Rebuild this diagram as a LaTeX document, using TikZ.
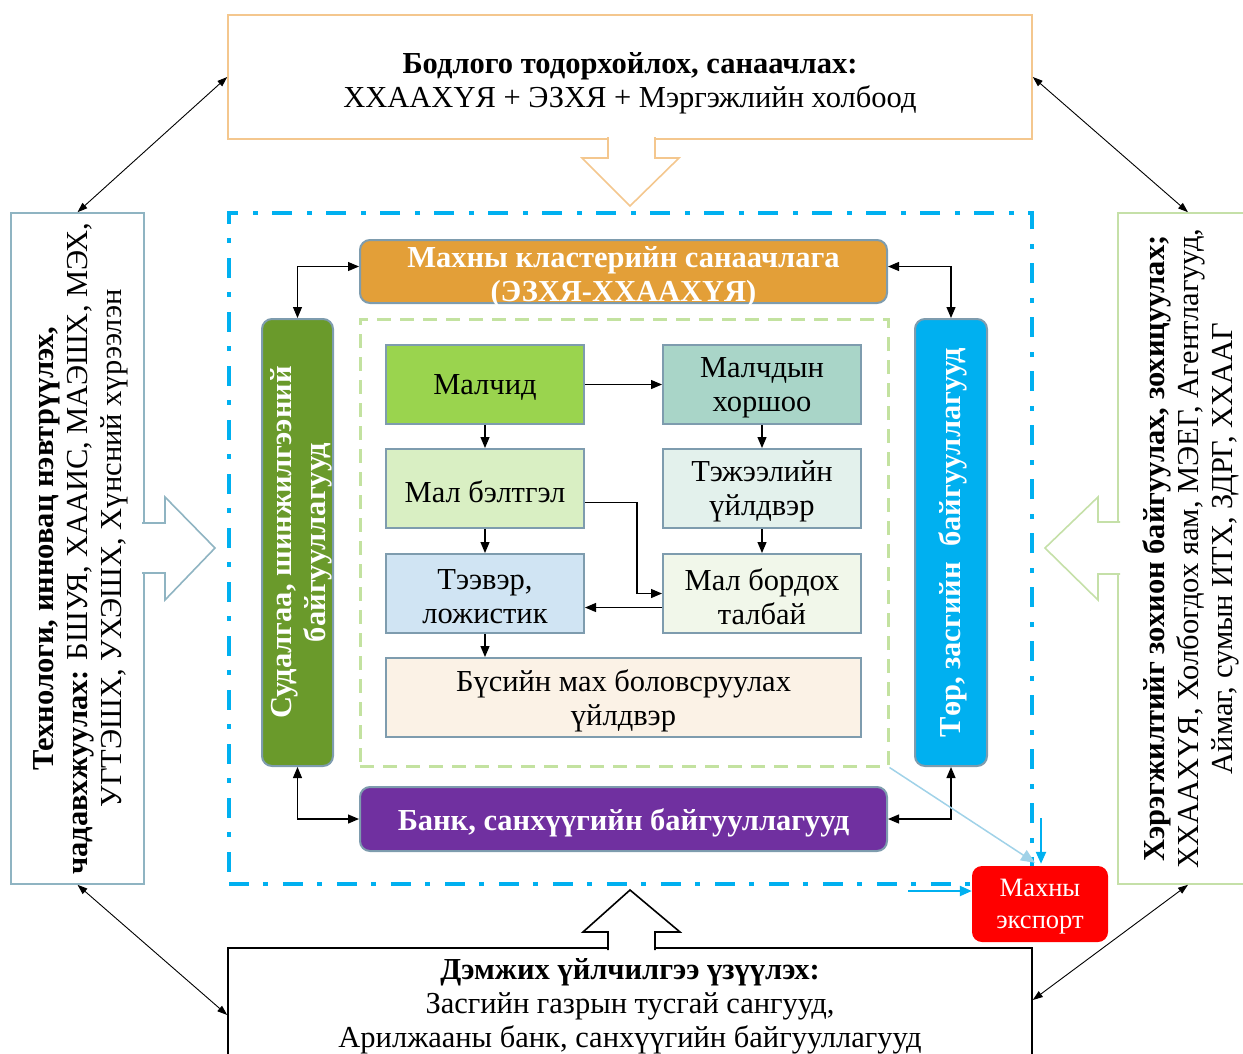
\documentclass[tikz,border=0pt]{standalone}
\usepackage{fontspec}
\setmainfont{Liberation Serif}
\usetikzlibrary{arrows.meta,calc}
\definecolor{topedge}{HTML}{F4C78E}
\definecolor{leftedge}{HTML}{8FB4C2}
\definecolor{rightedge}{HTML}{C5E0A8}
\definecolor{boxedge}{HTML}{7E9CAE}
\definecolor{oranfill}{HTML}{E39F38}
\definecolor{greenfill}{HTML}{6A9A2B}
\definecolor{bluefill}{HTML}{00B0F0}
\definecolor{purpfill}{HTML}{7030A0}
\definecolor{cmalchid}{HTML}{9AD44E}
\definecolor{ckhorshoo}{HTML}{A9D5C8}
\definecolor{cbeltgel}{HTML}{D9EFC3}
\definecolor{ctejeel}{HTML}{E3F1EC}
\definecolor{cteever}{HTML}{D0E4F3}
\definecolor{cbordokh}{HTML}{F1F7EA}
\definecolor{cbusiin}{HTML}{FBF2E6}
\definecolor{lbline}{HTML}{A0D2E8}
\definecolor{dashgreen}{HTML}{C3E2A0}
\newcommand\fsz{\fontsize{30.5}{34}\selectfont}
\newcommand\fsm{\fontsize{26.5}{32}\selectfont}
\begin{document}
\begin{tikzpicture}[x=1pt,y=-1pt,
  bigbox/.style={draw, line width=1.6pt, fill=white, inner sep=0pt},
  txt/.style={align=center, font=\fsz, inner sep=0pt},
  inbox/.style={draw=boxedge, line width=2pt, minimum width=198pt, minimum height=79pt, inner sep=0pt},
  rbox/.style={draw=boxedge, line width=2pt, rounded corners=10pt, inner sep=0pt},
  wtxt/.style={text=white, font=\bfseries\fsz, align=center, inner sep=0pt},
  conn/.style={line width=1.2pt, -{Triangle[length=11pt,width=9pt]}},
  both/.style={line width=1.2pt, {Triangle[length=11pt,width=9pt]}-{Triangle[length=11pt,width=9pt]}},
  diag/.style={line width=0.9pt, {Triangle[length=10pt,width=7pt]}-{Triangle[length=10pt,width=7pt]}},
  bluearr/.style={draw=bluefill, line width=2.2pt, -{Triangle[length=12pt,width=10pt]}},
  blockarrow/.style={line width=1.6pt, fill=white}
]
\useasboundingbox (0,0) rectangle (1243,1053);

% outer dash-dot cluster
\node[draw=bluefill, line width=4pt, dash pattern=on 20pt off 14pt on 5pt off 15pt,
      minimum width=803pt, minimum height=671pt, inner sep=0pt] (cluster) at (630.5,548.5) {};

% big outer boxes
\node[bigbox, draw=topedge, minimum width=804pt, minimum height=124pt] (topbox) at (630,77) {};
\node[txt] (toptext) at (630,83) {\textbf{Бодлого тодорхойлох, санаачлах:}\\ ХХААХҮЯ + ЭЗХЯ + Мэргэжлийн холбоод};

\node[bigbox, draw=leftedge, minimum width=133pt, minimum height=671pt] (lbox) at (77.5,548.5) {};
\node[txt, rotate=90] (ltext) at ($(lbox.center)+(3,0)$) {\textbf{Технологи, инновац нэвтрүүлэх,}\\ \textbf{чадавхжуулах:} БШУЯ, ХААИС, МАЭШХ, МЭХ,\\ УГТЭШХ, УХЭШХ, Хүнсний хүрээлэн};

\node[bigbox, draw=rightedge, minimum width=140pt, minimum height=671pt] (rbox) at (1188,548.5) {};
\node[txt, rotate=90] (rtext) at ($(rbox.center)+(3,0)$) {\textbf{Хэрэгжилтийг зохион байгуулах, зохицуулах;}\\ ХХААХҮЯ, Холбогдох яам, МЭЕГ, Агентлагууд,\\ Аймаг, сумын ИТХ, ЗДРГ, ХХААГ};

\node[bigbox, draw=black, minimum width=804pt, minimum height=124pt] (bbox) at (630,1010) {};
\node[txt] (btext) at (630,1006) {\textbf{Дэмжих үйлчилгээ үзүүлэх:}\\ Засгийн газрын тусгай сангууд,\\ Арилжааны банк, санхүүгийн байгууллагууд};

% block arrows
\draw[blockarrow, draw=topedge] (608,137) -- (608,158) -- (582,158) -- (630,206) -- (679,158) -- (655,158) -- (655,137);
\draw[blockarrow, draw=leftedge] (142,523) -- (165,523) -- (165,497) -- (215,548) -- (165,600) -- (165,573) -- (142,573);
\draw[blockarrow, draw=rightedge] (1120,522) -- (1098,522) -- (1098,497) -- (1045,548) -- (1098,600) -- (1098,574) -- (1120,574);
\draw[blockarrow, draw=black] (608,950) -- (608,932) -- (583,932) -- (630,890) -- (680,932) -- (655,932) -- (655,950);

% diagonal double arrows
\draw[diag] (topbox.west) -- (lbox.north);
\draw[diag] (topbox.east) -- (rbox.north);
\draw[diag] (lbox.south) -- ($(bbox.west)+(0,5)$);
\draw[diag] (rbox.south) -- ($(bbox.east)+(0,-10)$);

% inner dashed area
\node[draw=dashgreen, line width=3pt, dash pattern=on 14pt off 9pt, minimum width=528pt, minimum height=447pt, inner sep=0pt] (inner) at (624,542.5) {};

% rounded side nodes
\node[rbox, fill=oranfill, minimum width=527pt, minimum height=63pt] (oran) at (623.5,271.5) {};
\node[wtxt] (orantext) at (623.5,277) {Махны кластерийн санаачлага\\(ЭЗХЯ-ХХААХҮЯ)};
\node[rbox, fill=greenfill, minimum width=71pt, minimum height=447pt] (green) at (297.5,542.5) {};
\node[wtxt, rotate=90] (greentext) at ($(green.center)+(4,0)$) {Судалгаа, шинжилгээний\\байгууллагууд};
\node[rbox, fill=bluefill, minimum width=72pt, minimum height=447pt] (blue) at (951,542.5) {};
\node[wtxt, rotate=90] (bluetext) at ($(blue.center)+(2,0)$) {Төр, засгийн\ \ байгууллагууд};
\node[rbox, fill=purpfill, minimum width=527pt, minimum height=64pt] (purp) at (623.5,819) {};
\node[wtxt] (purptext) at ($(purp.center)+(0,4)$) {Банк, санхүүгийн байгууллагууд};

% inner boxes
\node[inbox, fill=cmalchid] (malchid) at (485,384.5) {};
\node[txt] (malchidT) at ($(malchid)+(0,3)$) {Малчид};
\node[inbox, fill=ckhorshoo] (khorshoo) at (762,384.5) {};
\node[txt] (khorshooT) at ($(khorshoo)+(0,3)$) {Малчдын\\хоршоо};
\node[inbox, fill=cbeltgel] (beltgel) at (485,488.5) {};
\node[txt] (beltgelT) at ($(beltgel)+(0,3)$) {Мал бэлтгэл};
\node[inbox, fill=ctejeel] (tejeel) at (762,488.5) {};
\node[txt] (tejeelT) at ($(tejeel)+(0,3)$) {Тэжээлийн\\үйлдвэр};
\node[inbox, fill=cteever] (teever) at (485,593.5) {};
\node[txt] (teeverT) at ($(teever)+(0,3)$) {Тээвэр,\\ложистик};
\node[inbox, fill=cbordokh] (bordokh) at (762,593.5) {};
\node[txt] (bordokhT) at ($(bordokh)+(0,3)$) {Мал бордох\\талбай};
\node[inbox, fill=cbusiin, minimum width=475pt] (busiin) at (623.5,697.5) {};
\node[txt] (busiinT) at ($(busiin)+(0,3)$) {Бүсийн мах боловсруулах\\үйлдвэр};

% inner connectors
\draw[conn] (malchid) -- (khorshoo);
\draw[conn] (malchid) -- (beltgel);
\draw[conn] (beltgel) -- (teever);
\draw[conn] (teever) -- (teever |- busiin.north);
\draw[conn] (khorshoo) -- (tejeel);
\draw[conn] (tejeel) -- (bordokh);
\draw[conn] ($(beltgel.east)+(0,14)$) -- ++(52,0) |- (bordokh.west);
\draw[conn] ($(bordokh.west)+(0,14)$) -- ($(teever.east)+(0,14)$);

% outer ring connectors
\draw[both] (green.north) |- ($(oran.west)+(0,-5)$);
\draw[both] (blue.north) |- ($(oran.east)+(0,-5)$);
\draw[both] (green.south) |- (purp.west);
\draw[both] (blue.south) |- (purp.east);

% export
\node[fill=red, rounded corners=10pt, minimum width=136pt, minimum height=76pt, inner sep=0pt] (export) at (1040,904) {};
\node[text=white, font=\fsm, align=center, inner sep=0pt] (exporttext) at ($(export.center)+(0,3)$) {Махны\\экспорт};
\draw[draw=lbline, line width=1.5pt, -{Triangle[length=14pt,width=12pt]}] (inner.south east) -- ($(export.north)+(-5,-3)$);
\coordinate (vb) at (1041,818);
\coordinate (hb) at (908,891);
\draw[bluearr] (vb) -- ($(export.north)+(1,-2)$);
\draw[bluearr] (hb) -- (hb -| export.west);
\end{tikzpicture}
\end{document}
